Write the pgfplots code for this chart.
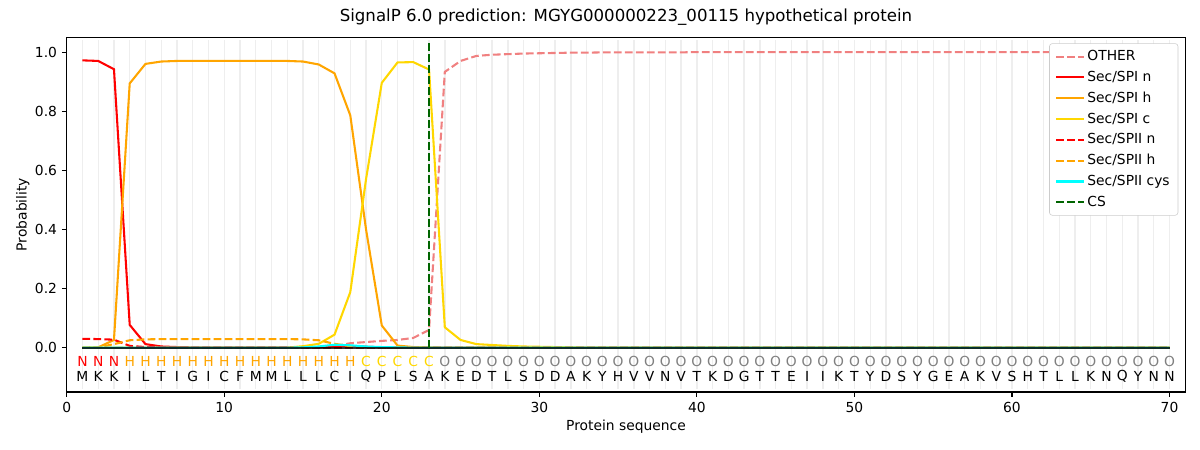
\documentclass[border=0pt]{standalone}
\usepackage{fontspec}
\setmainfont{DejaVu Sans}
\usepackage{pgfplots}
\usepackage{pgfplotstable}
\pgfplotsset{compat=1.18}
\definecolor{lightcoral}{HTML}{F08080}
\definecolor{mplorange}{HTML}{FFA500}
\definecolor{mplgold}{HTML}{FFD700}
\definecolor{darkgreen}{HTML}{006400}
\definecolor{mplgray}{HTML}{808080}
\definecolor{legframe}{HTML}{CCCCCC}
\definecolor{baseline}{HTML}{48D6B4}
\definecolor{mplcyan}{HTML}{00FFFF}
\definecolor{gridc}{HTML}{EEEEEE}

\pgfplotstableread{
pos other spin spih spic spiin spiih cys
1 0 0.972 0 0 0.030 0 0
2 0 0.970 0.001 0 0.029 0.001 0
3 0 0.942 0.026 0 0.027 0.012 0
4 0 0.077 0.894 0 0.006 0.025 0
5 0 0.012 0.960 0 0.002 0.028 0
6 0 0.004 0.968 0 0.001 0.029 0
7 0 0.002 0.970 0 0 0.029 0
8 0 0.001 0.970 0 0 0.029 0
9 0 0.001 0.970 0 0 0.029 0
10 0 0.001 0.970 0 0 0.029 0
11 0 0.001 0.970 0 0 0.029 0
12 0 0.001 0.970 0 0 0.029 0
13 0 0.001 0.970 0 0 0.029 0
14 0 0.001 0.970 0 0 0.029 0
15 0 0.001 0.968 0.005 0 0.028 0.001
16 0.002 0.002 0.958 0.013 0 0.025 0.004
17 0.005 0.004 0.928 0.044 0 0.013 0.010
18 0.015 0.006 0.786 0.188 0 0.005 0.008
19 0.019 0.003 0.400 0.570 0 0.002 0.004
20 0.023 0.001 0.075 0.896 0 0 0.002
21 0.026 0 0.007 0.965 0 0 0.001
22 0.033 0 0.002 0.966 0 0 0
23 0.060 0 0.001 0.941 0 0 0
24 0.933 0 0 0.069 0 0 0
25 0.970 0 0 0.026 0 0 0
26 0.987 0 0 0.012 0 0 0
27 0.991 0 0 0.009 0 0 0
28 0.993 0 0 0.006 0 0 0
29 0.995 0 0 0.004 0 0 0
30 0.996 0 0 0.003 0 0 0
31 0.997 0 0 0.002 0 0 0
32 0.998 0 0 0.001 0 0 0
33 0.998 0 0 0 0 0 0
34 0.999 0 0 0 0 0 0
35 0.999 0 0 0 0 0 0
36 0.999 0 0 0 0 0 0
37 0.999 0 0 0 0 0 0
38 0.999 0 0 0 0 0 0
39 0.999 0 0 0 0 0 0
40 1.0 0 0 0 0 0 0
41 1.0 0 0 0 0 0 0
42 1.0 0 0 0 0 0 0
43 1.0 0 0 0 0 0 0
44 1.0 0 0 0 0 0 0
45 1.0 0 0 0 0 0 0
46 1.0 0 0 0 0 0 0
47 1.0 0 0 0 0 0 0
48 1.0 0 0 0 0 0 0
49 1.0 0 0 0 0 0 0
50 1.0 0 0 0 0 0 0
51 1.0 0 0 0 0 0 0
52 1.0 0 0 0 0 0 0
53 1.0 0 0 0 0 0 0
54 1.0 0 0 0 0 0 0
55 1.0 0 0 0 0 0 0
56 1.0 0 0 0 0 0 0
57 1.0 0 0 0 0 0 0
58 1.0 0 0 0 0 0 0
59 1.0 0 0 0 0 0 0
60 1.0 0 0 0 0 0 0
61 1.0 0 0 0 0 0 0
62 1.0 0 0 0 0 0 0
63 1.0 0 0 0 0 0 0
64 1.0 0 0 0 0 0 0
65 1.0 0 0 0 0 0 0
66 1.0 0 0 0 0 0 0
67 1.0 0 0 0 0 0 0
68 1.0 0 0 0 0 0 0
69 1.0 0 0 0 0 0 0
70 1.0 0 0 0 0 0 0
}\probs

\pgfplotstableread{
pos y res cls
1 -0.045 M N
2 -0.045 K N
3 -0.045 K N
4 -0.045 I H
5 -0.045 L H
6 -0.045 T H
7 -0.045 I H
8 -0.045 G H
9 -0.045 I H
10 -0.045 C H
11 -0.045 F H
12 -0.045 M H
13 -0.045 M H
14 -0.045 L H
15 -0.045 L H
16 -0.045 L H
17 -0.045 C H
18 -0.045 I H
19 -0.045 Q C
20 -0.045 P C
21 -0.045 L C
22 -0.045 S C
23 -0.045 A C
24 -0.045 K O
25 -0.045 E O
26 -0.045 D O
27 -0.045 T O
28 -0.045 L O
29 -0.045 S O
30 -0.045 D O
31 -0.045 D O
32 -0.045 A O
33 -0.045 K O
34 -0.045 Y O
35 -0.045 H O
36 -0.045 V O
37 -0.045 V O
38 -0.045 N O
39 -0.045 V O
40 -0.045 T O
41 -0.045 K O
42 -0.045 D O
43 -0.045 G O
44 -0.045 T O
45 -0.045 T O
46 -0.045 E O
47 -0.045 I O
48 -0.045 I O
49 -0.045 K O
50 -0.045 T O
51 -0.045 Y O
52 -0.045 D O
53 -0.045 S O
54 -0.045 Y O
55 -0.045 G O
56 -0.045 E O
57 -0.045 A O
58 -0.045 K O
59 -0.045 V O
60 -0.045 S O
61 -0.045 H O
62 -0.045 T O
63 -0.045 L O
64 -0.045 L O
65 -0.045 K O
66 -0.045 N O
67 -0.045 Q O
68 -0.045 Y O
69 -0.045 N O
70 -0.045 N O
}\labels

\begin{document}
\begin{tikzpicture}
\path[use as bounding box] (0,0) rectangle (12in,4.5in);
\begin{axis}[
  at={(0.667in,0.58in)}, anchor=south west,
  scale only axis, width=11.186in, height=3.547in,
  xmin=0, xmax=71, ymin=-0.15, ymax=1.05,
  xtick={0,10,...,70},
  ytick={0,0.2,0.4,0.6,0.8,1.0},
  yticklabel style={/pgf/number format/fixed, /pgf/number format/fixed zerofill, /pgf/number format/precision=1},
  /pgf/number format/assume math mode=true,
  ticklabel style={font=\fontsize{10}{12}\selectfont},
  tick align=outside, major tick length=3.5pt,
  tick style={black, line width=0.8pt},
  axis line style={line width=0.8pt},
  xtick pos=bottom, ytick pos=left,
  title={SignalP 6.0 prediction: MGYG000000223\_00115 hypothetical protein},
  title style={font=\fontsize{12}{14}\selectfont, yshift=-1pt},
  xlabel={Protein sequence}, ylabel={Probability},
  xlabel style={yshift=1.2pt},
  ylabel style={yshift=-3pt},
  label style={font=\fontsize{10}{12}\selectfont},
  every axis plot/.append style={line width=1.5pt},
  legend cell align=left,
  legend style={at={(0.9937,0.983)}, anchor=north east, draw=legframe, rounded corners=2pt,
    font=\fontsize{10}{12}\selectfont, row sep=2.05pt, inner xsep=4pt, inner ysep=3pt},
  legend image code/.code={\draw[#1] (0cm,0cm) -- (0.7cm,0cm);},
]
\pgfplotsinvokeforeach{1,...,70}{\draw[gridc, line width=1pt] (axis cs:#1,-0.14) -- (axis cs:#1,1.04);}
\addplot[lightcoral, dash pattern=on 5.55pt off 2.4pt] table[x=pos, y=other] {\probs};
\addlegendentry{OTHER}
\addplot[red] table[x=pos, y=spin] {\probs};
\addlegendentry{Sec/SPI n}
\addplot[mplorange] table[x=pos, y=spih] {\probs};
\addlegendentry{Sec/SPI h}
\addplot[mplgold] table[x=pos, y=spic] {\probs};
\addlegendentry{Sec/SPI c}
\addplot[red, dash pattern=on 5.55pt off 2.4pt] table[x=pos, y=spiin] {\probs};
\addlegendentry{Sec/SPII n}
\addplot[mplorange, dash pattern=on 5.55pt off 2.4pt] table[x=pos, y=spiih] {\probs};
\addlegendentry{Sec/SPII h}
\addplot[mplcyan] table[x=pos, y=cys] {\probs};
\addlegendentry{Sec/SPII cys}
\addplot[baseline, opacity=0.8, forget plot] table[x=pos, y expr=0] {\probs};
\addplot[darkgreen, dash pattern=on 5.55pt off 2.4pt] coordinates {(23,0) (23,1.035)};
\addlegendentry{CS}
% class letters
\addplot[draw=none, mark=none, forget plot, nodes near coords, point meta=explicit symbolic,
  every node near coord/.append style={anchor=center, font=\fontsize{10}{12}\selectfont, text=red}]
  table[x=pos, y=y, meta=cls, restrict expr to domain={\thisrow{pos}}{1:3}] {\labels};
\addplot[draw=none, mark=none, forget plot, nodes near coords, point meta=explicit symbolic,
  every node near coord/.append style={anchor=center, font=\fontsize{10}{12}\selectfont, text=mplorange}]
  table[x=pos, y=y, meta=cls, restrict expr to domain={\thisrow{pos}}{4:18}] {\labels};
\addplot[draw=none, mark=none, forget plot, nodes near coords, point meta=explicit symbolic,
  every node near coord/.append style={anchor=center, font=\fontsize{10}{12}\selectfont, text=mplgold}]
  table[x=pos, y=y, meta=cls, restrict expr to domain={\thisrow{pos}}{19:23}] {\labels};
\addplot[draw=none, mark=none, forget plot, nodes near coords, point meta=explicit symbolic,
  every node near coord/.append style={anchor=center, font=\fontsize{10}{12}\selectfont, text=mplgray}]
  table[x=pos, y=y, meta=cls, restrict expr to domain={\thisrow{pos}}{24:70}] {\labels};
% residues
\addplot[draw=none, mark=none, forget plot, nodes near coords, point meta=explicit symbolic,
  every node near coord/.append style={anchor=center, font=\fontsize{10}{12}\selectfont, text=black}]
  table[x=pos, y expr=-0.096, meta=res] {\labels};
\end{axis}
\end{tikzpicture}
\end{document}
